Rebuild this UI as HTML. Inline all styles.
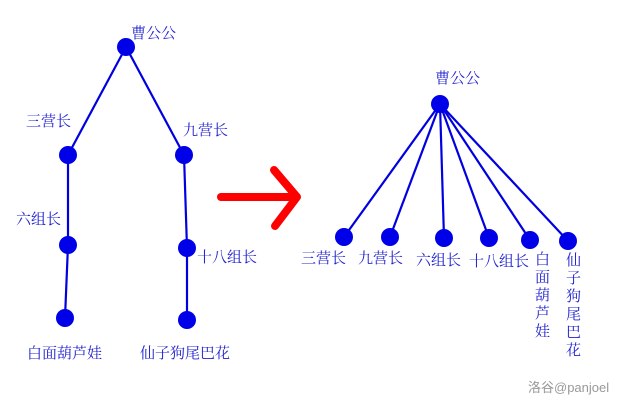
<!DOCTYPE html>
<html><head><meta charset="utf-8"><style>
html,body{margin:0;padding:0;background:#fff;}
svg{display:block}
text{font-family:"Liberation Serif","Noto Serif CJK SC",serif;font-size:15px;fill:#2323d0;}
</style></head><body>
<svg width="629" height="408" viewBox="0 0 629 408" xmlns="http://www.w3.org/2000/svg">
<g stroke="#0000e0" stroke-width="2.2" fill="none">
<line x1="126" y1="47" x2="68" y2="155"/>
<line x1="126" y1="47" x2="184" y2="155"/>
<line x1="68" y1="155" x2="68" y2="245"/>
<line x1="68" y1="245" x2="65" y2="318"/>
<line x1="184" y1="155" x2="187" y2="248"/>
<line x1="187" y1="248" x2="187" y2="320"/>
<line x1="440" y1="104" x2="344" y2="237"/>
<line x1="440" y1="104" x2="390" y2="237"/>
<line x1="440" y1="104" x2="444" y2="238"/>
<line x1="440" y1="104" x2="489" y2="238"/>
<line x1="440" y1="104" x2="530" y2="240"/>
<line x1="440" y1="104" x2="568" y2="241"/>
</g>
<g fill="#0000e8">
<circle cx="126" cy="47" r="9"/>
<circle cx="68" cy="155" r="9"/>
<circle cx="184" cy="155" r="9"/>
<circle cx="68" cy="245" r="9"/>
<circle cx="187" cy="248" r="9"/>
<circle cx="65" cy="318" r="9"/>
<circle cx="187" cy="320" r="9"/>
<circle cx="440" cy="104" r="9"/>
<circle cx="344" cy="237" r="9"/>
<circle cx="390" cy="237" r="9"/>
<circle cx="444" cy="238" r="9"/>
<circle cx="489" cy="238" r="9"/>
<circle cx="530" cy="240" r="9"/>
<circle cx="568" cy="241" r="9"/>
</g>
<g stroke="#f00" stroke-width="8" stroke-linecap="round" stroke-linejoin="round" fill="none">
<line x1="221" y1="197" x2="296" y2="197"/>
<polyline points="274,170 297,197 275,226"/>
</g>
<text x="131" y="38">曹公公</text>
<text x="26" y="126">三营长</text>
<text x="183" y="135">九营长</text>
<text x="16" y="224">六组长</text>
<text x="197" y="262">十八组长</text>
<text x="27" y="358">白面葫芦娃</text>
<text x="140" y="358">仙子狗尾巴花</text>
<text x="435" y="83">曹公公</text>
<text x="301" y="263">三营长</text>
<text x="358" y="263">九营长</text>
<text x="416" y="265">六组长</text>
<text x="469" y="266">十八组长</text>
<g>
<text x="535" y="264">白</text><text x="535" y="282">面</text><text x="535" y="300">葫</text><text x="535" y="318">芦</text><text x="535" y="336">娃</text>
<text x="566" y="265">仙</text><text x="566" y="283">子</text><text x="566" y="301">狗</text><text x="566" y="319">尾</text><text x="566" y="337">巴</text><text x="566" y="355">花</text>
</g>
<text x="528" y="392" style="font-family:'Liberation Sans','Noto Sans CJK SC',sans-serif;font-size:13px;fill:#999">洛谷@panjoel</text>
</svg>
</body></html>
